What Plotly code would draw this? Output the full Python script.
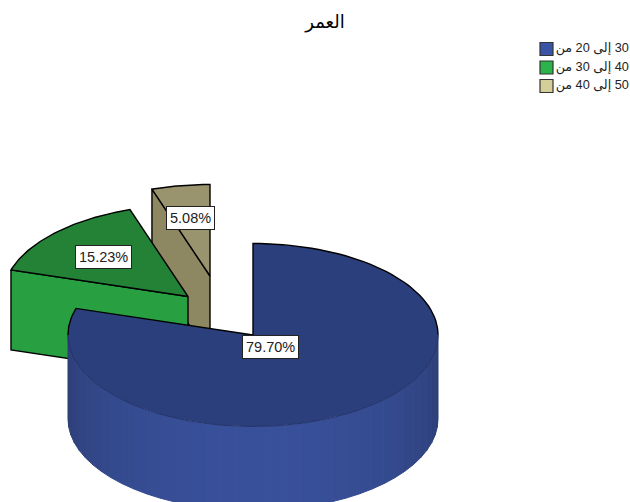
import numpy as np
import plotly.graph_objects as go

# Data
title_text = "العمر"
categories = ["من\u200e 20 \u200eإلى\u200e 30", "من\u200e 30 \u200eإلى\u200e 40", "من\u200e 40 \u200eإلى\u200e 50"]
values = [79.70, 15.23, 5.08]

# Styles
top_colors = ["#2c3f7d", "#238236", "#99946e"]
side_colors = [None, "#28a041", "#8d8862"]
legend_colors = ["#3a53a6", "#2cb34b", "#d4cf98"]
centers = [(253, 335), (188, 296.5), (210, 276)]
label_pos = [(270, 347), (103, 257), (190, 218)]
legend_y = [49, 67.5, 86]
RX, RY = 185, 91.5
DEPTH = 84
BACK_DEPTH = 80
W, H = 630, 502

angles = np.cumsum([0] + values) / sum(values) * 360


def pts(c, a):
    a = np.radians(a)
    return c[0] + RX * np.sin(a), c[1] - RY * np.cos(a)


def poly(x, y, fill, line="black", width=1.4):
    return go.Scatter(
        x=list(x), y=list(y), mode="lines", fill="toself", fillcolor=fill,
        line=dict(color=line, width=width), hoverinfo="skip", showlegend=False,
    )


def stroke(x, y, color="black", width=1.4):
    return go.Scatter(x=list(x), y=list(y), mode="lines",
                      line=dict(color=color, width=width),
                      hoverinfo="skip", showlegend=False)


def wedge(c, a0, a1):
    ax = np.linspace(a0, a1, 60)
    x, y = pts(c, ax)
    return np.r_[c[0], x, c[0]], np.r_[c[1], y, c[1]]


def mix(c0, c1, t):
    a = [int(c0[i:i + 2], 16) for i in (1, 3, 5)]
    b = [int(c1[i:i + 2], 16) for i in (1, 3, 5)]
    return "#%02x%02x%02x" % tuple(round(a[i] + (b[i] - a[i]) * t) for i in range(3))


fig = go.Figure()

# Tan slice (index 2) and green slice (index 1): rear-to-front
for i in (2, 1):
    c = centers[i]
    a0, a1 = angles[i], angles[i + 1]
    ex, ey = pts(c, a0)
    fig.add_trace(poly([ex, c[0], c[0], ex, ex],
                       [ey, c[1], c[1] + BACK_DEPTH, ey + BACK_DEPTH, ey],
                       side_colors[i]))
    x, y = wedge(c, a0, a1)
    fig.add_trace(poly(x, y, top_colors[i]))

# Blue slice: banded cylinder wall, then top face
c = centers[0]
edges = np.linspace(90, 270, 37)
for a0, a1 in zip(edges[:-1], edges[1:]):
    ax = np.linspace(a0, a1, 6)
    x, y = pts(c, ax)
    mid = (a0 + a1) / 2
    t = np.sin(np.clip((mid - 80) / 200 * 180, 0, 180) * np.pi / 180) ** 1.2
    col = mix("#2c3c72", "#38509a", float(t))
    px = np.r_[x, x[::-1]]
    py = np.r_[y, (y + DEPTH)[::-1]]
    fig.add_trace(poly(np.r_[px, px[0]], np.r_[py, py[0]], col, line=col, width=1))

x, y = wedge(c, angles[0], angles[1])
fig.add_trace(go.Scatter(x=list(x), y=list(y), mode="lines", fill="toself",
                         fillcolor=top_colors[0], line=dict(width=0),
                         hoverinfo="skip", showlegend=False))
fa = np.linspace(90, 270, 80)
fx, fy = pts(c, fa)
fig.add_trace(stroke(fx, fy, "#1f2c5a", 0.7))
ra = np.linspace(angles[0], 90, 40)
rx, ry = pts(c, ra)
fig.add_trace(stroke(np.r_[c[0], rx], np.r_[c[1], ry]))
la = np.linspace(270, angles[1], 12)
lx, ly = pts(c, la)
fig.add_trace(stroke(np.r_[lx, c[0]], np.r_[ly, c[1]]))

# Legend rows
for name, col, ly_ in zip(categories, legend_colors, legend_y):
    fig.add_trace(go.Scatter(
        x=[546.5], y=[ly_], mode="markers+text", text=[name],
        textposition="middle right",
        textfont=dict(family="Liberation Sans, DejaVu Sans", size=12.7, color="#222222"),
        marker=dict(symbol="square", size=13, color=col, line=dict(color="#333333", width=1.2)),
        hoverinfo="skip", showlegend=False, cliponaxis=False,
    ))

# Value labels
for v, (lx_, ly_) in zip(values, label_pos):
    fig.add_annotation(
        x=lx_, y=ly_, text=f"{v:.2f}%", showarrow=False,
        font=dict(family="Liberation Sans, Arial", size=14.5, color="#222222"),
        bgcolor="white", bordercolor="#222222", borderwidth=1, borderpad=3,
    )

fig.update_layout(
    width=W, height=H, autosize=False,
    margin=dict(l=0, r=0, t=0, b=0),
    paper_bgcolor="white", plot_bgcolor="white", showlegend=False,
    title=dict(text=title_text, x=325 / W, y=1 - 22 / H,
               xanchor="center", yanchor="middle",
               font=dict(family="Liberation Sans, DejaVu Sans", size=18, color="black")),
    xaxis=dict(range=[0, W], visible=False, fixedrange=True),
    yaxis=dict(range=[H, 0], visible=False, fixedrange=True),
)

fig.write_html("out.html", config={"displayModeBar": False},
               default_width=f"{W}px", default_height=f"{H}px",
               post_script="document.body.style.margin='0';document.documentElement.style.overflow='hidden';")
